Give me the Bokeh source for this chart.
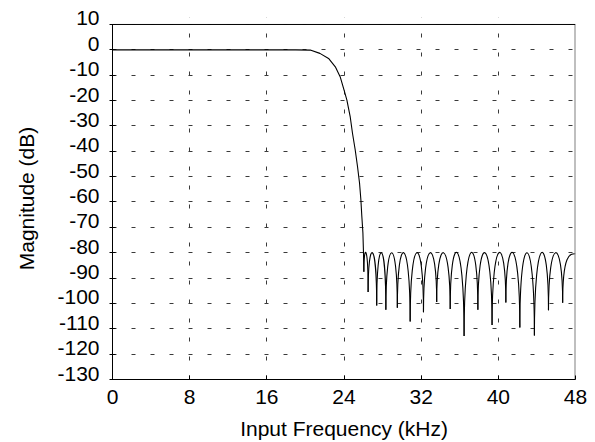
from bokeh.plotting import figure
from bokeh.models import (FixedTicker, Range1d, Span, LinearAxis,
                          CustomJSTickFormatter)
from bokeh.embed import file_html
from bokeh.resources import INLINE

# ---- data ----
# passband and transition band (kHz, dB)
pass_freq = [0, 4, 8, 12, 16, 19, 20.5, 21.5, 22.4, 23.1, 23.6, 24.0, 24.3,
             24.64, 24.88, 25.16, 25.4, 25.61, 25.75, 25.85, 25.96, 26.02]
pass_db = [0, 0, 0, 0, 0, 0, -0.1, -1.4, -3.4, -6.7, -10.6, -15.8, -19.8,
           -26.3, -32.9, -39.4, -46.0, -52.5, -59.1, -65.7, -72.2, -80.0]

# stopband nulls (kHz, dB)
null_freq = [26.06, 26.5, 27.39, 28.34, 29.53, 30.86, 32.24, 33.61, 35.01,
             36.45, 37.88, 39.35, 40.78, 42.23, 43.74, 45.2, 46.67]
null_db = [-87.5, -95.5, -100.8, -102.5, -101.7, -107.1, -103.5, -99.4, -102.2,
           -112.8, -102.5, -108.5, -99.6, -109.5, -112.6, -102.7, -99.7]
lobe_peak_db = -80.0
end_freq = 48.0
end_db = -80.4

x_ticks = [0, 8, 16, 24, 32, 40, 48]
y_ticks = [10, 0, -10, -20, -30, -40, -50, -60, -70, -80, -90, -100, -110, -120, -130]

# ---- layout / style ----
FONT = "Liberation Sans"
FS = "21px"
X_MIN, X_MAX = 0, 48
Y_MIN, Y_MAX = -130, 10
PX_PER_DB = 356 / (Y_MAX - Y_MIN)
EXTRA_PX = 7                      # blank strip above the top line
Y_TOP = Y_MAX + EXTRA_PX / PX_PER_DB
LABEL_SHIFT = 6 / PX_PER_DB       # y tick labels sit on their ticks

p = figure(width=595, height=442, output_backend="svg", toolbar_location=None,
           x_range=Range1d(X_MIN, X_MAX), y_range=Range1d(Y_MIN, Y_TOP),
           min_border_left=112, min_border_right=20, min_border_top=24 - EXTRA_PX,
           min_border_bottom=62, background_fill_color="white",
           border_fill_color="white")
p.outline_line_color = None

# grids
p.xgrid.ticker = FixedTicker(ticks=x_ticks)
p.ygrid.ticker = FixedTicker(ticks=y_ticks)
for g in (p.xgrid[0], p.ygrid[0]):
    g.grid_line_color = "#3a3a3a"
    g.grid_line_dash = "4 15"
    g.grid_line_width = 1

# hide the grid above the top line
p.quad(left=[X_MIN], right=[X_MAX], bottom=[Y_MAX], top=[Y_TOP],
       fill_color="white", line_color=None)

# curve: passband + transition, ending in first null
line_x = pass_freq + [null_freq[0]]
line_y = pass_db + [null_db[0]]
p.line(line_x, line_y, line_color="black", line_width=1.1)

# stopband lobes drawn as cubic curves between successive nulls
x0s, y0s, x1s, y1s, cx0, cy0, cx1, cy1 = [], [], [], [], [], [], [], []
for i in range(len(null_freq) - 1):
    a, b = null_freq[i], null_freq[i + 1]
    ya, yb = null_db[i], null_db[i + 1]
    h = (lobe_peak_db - (ya + yb) / 8.0) / 0.75
    x0s.append(a); y0s.append(ya); x1s.append(b); y1s.append(yb)
    cx0.append(a); cy0.append(h); cx1.append(b); cy1.append(h)
a, ya = null_freq[-1], null_db[-1]
x0s.append(a); y0s.append(ya); x1s.append(end_freq); y1s.append(end_db)
cx0.append(a); cy0.append(lobe_peak_db)
cx1.append(end_freq - 0.4 * (end_freq - a)); cy1.append(end_db)
p.bezier(x0=x0s, y0=y0s, x1=x1s, y1=y1s, cx0=cx0, cy0=cy0, cx1=cx1, cy1=cy1,
         line_color="black", line_width=1.1)

# frame: black top line, grey right edge
p.add_layout(Span(location=Y_MAX, dimension="width", line_color="black", line_width=1))
p.segment(x0=[X_MAX], y0=[Y_MIN], x1=[X_MAX], y1=[Y_MAX],
          line_color="#808080", line_width=2)

# x axis
xa = p.xaxis[0]
xa.ticker = FixedTicker(ticks=x_ticks)
xa.major_label_overrides = {t: str(t) for t in x_ticks}
xa.axis_label = "Input Frequency (kHz)"
xa.major_tick_in = 4
xa.major_tick_out = 0
xa.major_label_standoff = 10
xa.axis_label_standoff = 10

# y axis with ticks only (next to the frame), its labels not drawn
ya_ticks = p.yaxis[0]
ya_ticks.ticker = FixedTicker(ticks=y_ticks)
ya_ticks.bounds = (Y_MIN, Y_MAX)
ya_ticks.major_tick_in = 3
ya_ticks.major_tick_out = 3
ya_ticks.major_label_standoff = 0
ya_ticks.major_label_text_color = None

# y axis carrying the labels, baseline on each tick
yl = LinearAxis(ticker=FixedTicker(ticks=[v + LABEL_SHIFT for v in y_ticks]),
                formatter=CustomJSTickFormatter(
                    code="return String(Math.round(tick - %r));" % LABEL_SHIFT),
                axis_label="Magnitude (dB)")
yl.axis_line_color = None
yl.major_tick_line_color = None
yl.major_tick_in = 0
yl.major_tick_out = 0
yl.major_label_standoff = 10
yl.axis_label_standoff = 16
p.add_layout(yl, "left")

for ax in (xa, yl):
    ax.major_label_text_font = FONT
    ax.major_label_text_font_size = FS
    ax.major_label_text_color = "black"
    ax.axis_label_text_font = FONT
    ax.axis_label_text_font_size = FS
    ax.axis_label_text_font_style = "normal"
    ax.axis_label_text_color = "black"
for ax in (xa, ya_ticks, yl):
    ax.minor_tick_line_color = None
for ax in (xa, ya_ticks):
    ax.axis_line_color = "black"
    ax.major_tick_line_color = "black"

open("out.html", "w").write(file_html(p, INLINE))
